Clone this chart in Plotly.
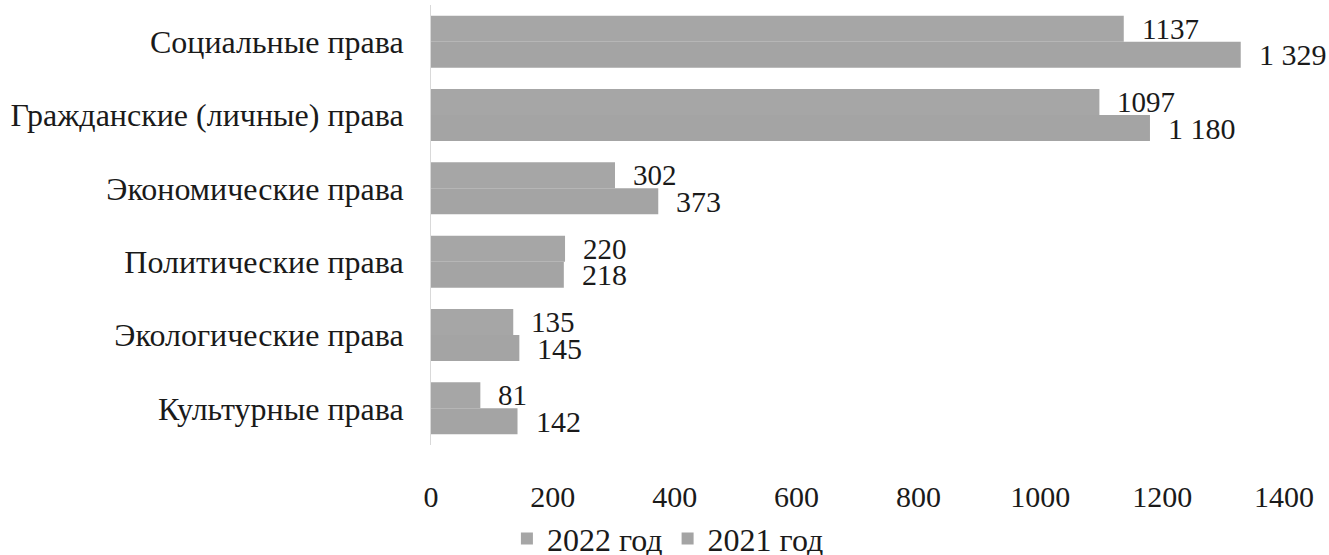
import plotly.graph_objects as go

categories = ["Социальные права", "Гражданские (личные) права", "Экономические права",
              "Политические права", "Экологические права", "Культурные права"]
values_2022 = [1137, 1097, 302, 220, 135, 81]
values_2021 = [1329, 1180, 373, 218, 145, 142]
labels_2022 = ["1137", "1097", "302", "220", "135", "81"]
labels_2021 = ["1 329", "1 180", "373", "218", "145", "142"]
series_names = ["2022 год", "2021 год"]
x_ticks = [0, 200, 400, 600, 800, 1000, 1200, 1400]

FONT = "Liberation Serif, Times New Roman, DejaVu Serif, serif"
TXT = "#1a1a1a"
BAR_COLOR_2022 = "#a6a6a6"
BAR_COLOR_2021 = "#a4a4a4"

fig = go.Figure()
fig.add_trace(go.Bar(y=categories, x=values_2022, orientation="h", name=series_names[0],
                     marker=dict(color=BAR_COLOR_2022, line=dict(width=0)), hoverinfo="skip"))
fig.add_trace(go.Bar(y=categories, x=values_2021, orientation="h", name=series_names[1],
                     marker=dict(color=BAR_COLOR_2021, line=dict(width=0)), hoverinfo="skip"))

annotations = []
for cat, v, lab in zip(categories, values_2022, labels_2022):
    annotations.append(dict(x=v, y=cat, text=lab, xref="x", yref="y", showarrow=False,
                            xanchor="left", yanchor="middle", xshift=16, yshift=13,
                            font=dict(family=FONT, size=29, color=TXT)))
for cat, v, lab in zip(categories, values_2021, labels_2021):
    annotations.append(dict(x=v, y=cat, text=lab, xref="x", yref="y", showarrow=False,
                            xanchor="left", yanchor="middle", xshift=16, yshift=-13,
                            font=dict(family=FONT, size=30, color=TXT)))

fig.update_layout(
    width=1329, height=555,
    margin=dict(l=431, r=45, t=5, b=110, autoexpand=False),
    paper_bgcolor="white", plot_bgcolor="white",
    barmode="group", bargap=0.29, bargroupgap=0,
    font=dict(family=FONT, size=29, color=TXT),
    showlegend=True,
    legend=dict(orientation="h", x=0.089, xanchor="left", y=-0.213, yanchor="middle",
                font=dict(family=FONT, size=32, color=TXT),
                itemwidth=30, tracegroupgap=0, traceorder="normal"),
    annotations=annotations,
)
fig.update_xaxes(range=[0, 1400], tickvals=x_ticks, ticktext=[str(t) for t in x_ticks],
                 showgrid=False, zeroline=False, showline=False, ticks="", automargin=False,
                 ticklabelstandoff=31, tickfont=dict(family=FONT, size=30, color=TXT))
fig.update_yaxes(autorange="reversed", showgrid=False, zeroline=False, automargin=False,
                 showline=True, linecolor="#d9d9d9", linewidth=1, ticks="",
                 ticklabelstandoff=20, tickfont=dict(family=FONT, size=32, color=TXT))

fig.write_html("out.html", config={"displayModeBar": False},
               post_script="document.body.style.margin='0';")
